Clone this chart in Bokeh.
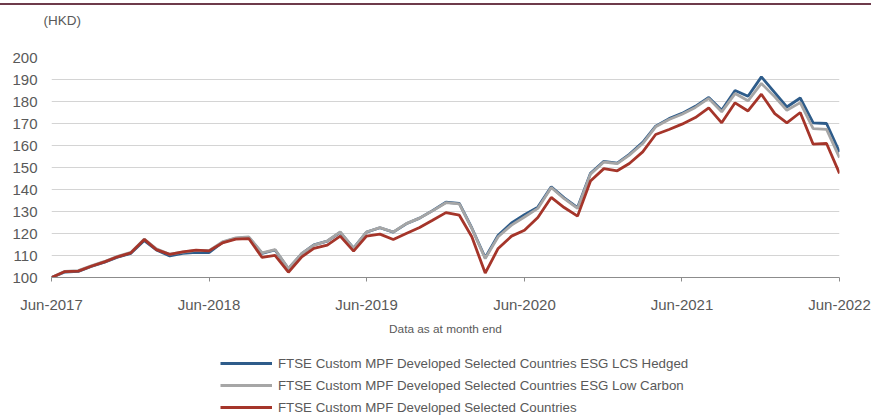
from datetime import date
from bokeh.plotting import figure
from bokeh.models import (Range1d, FixedTicker, Legend, LegendItem, Div, ColumnDataSource)
from bokeh.layouts import column
from bokeh.embed import file_html
from bokeh.resources import INLINE
import pandas as pd

# ---- data ----
months = pd.date_range("2017-06-30", "2022-06-30", freq="ME")

hedged = [100, 102.5, 102.8, 105.0, 107.0, 109.2, 111.0, 116.8, 112.5, 109.8, 111.0, 111.4,
          111.3, 116.0, 117.8, 118.2, 111.0, 112.5, 104.0, 110.8, 114.8, 116.5, 120.5, 113.3,
          120.6, 122.6, 120.6, 124.4, 127.0, 130.4, 134.2, 133.7, 122.5, 109.0, 119.2, 124.8,
          128.5, 132.0, 141.2, 136.2, 131.8, 147.4, 152.8, 152.0, 156.0, 161.4, 168.8, 172.2,
          174.6, 177.8, 181.8, 176.0, 185.0, 182.4, 191.2, 184.0, 177.5, 181.6, 170.3, 170.0,
          157.0]
low_carbon = [100, 102.8, 103.1, 105.3, 107.3, 109.6, 111.4, 117.5, 113.0, 110.6, 111.5, 112.3,
              112.2, 116.2, 118.0, 118.5, 111.2, 112.7, 104.1, 110.9, 114.7, 116.6, 120.7, 113.2,
              120.7, 122.7, 120.7, 124.5, 127.0, 130.3, 134.0, 133.5, 122.3, 108.6, 118.5, 123.8,
              127.5, 131.4, 140.9, 135.8, 131.4, 147.0, 152.5, 151.8, 155.6, 160.9, 168.5, 171.8,
              174.2, 177.3, 181.4, 175.3, 183.6, 180.3, 188.2, 182.1, 176.0, 179.5, 167.7, 167.3,
              154.5]
selected = [100, 102.7, 102.9, 105.1, 107.1, 109.4, 111.2, 117.3, 112.7, 110.5, 111.6, 112.4,
            112.1, 115.7, 117.4, 117.7, 109.1, 110.1, 102.4, 109.4, 113.2, 114.7, 118.8, 112.0,
            118.8, 119.7, 117.3, 120.0, 122.7, 126.0, 129.5, 128.3, 118.5, 102.0, 113.2, 118.8,
            121.5, 127.3, 136.4, 131.8, 127.9, 143.9, 149.5, 148.5, 151.8, 157.1, 165.0, 167.3,
            169.7, 172.7, 177.1, 170.3, 179.4, 175.7, 183.3, 174.5, 170.3, 175.0, 160.6, 160.9,
            147.3]
series_names = ["FTSE Custom MPF Developed Selected Countries ESG LCS Hedged",
                "FTSE Custom MPF Developed Selected Countries ESG Low Carbon",
                "FTSE Custom MPF Developed Selected Countries"]
series_colors = ["#2e5c8a", "#a6a6a6", "#a5352a"]
y_ticks = [100, 110, 120, 130, 140, 150, 160, 170, 180, 190, 200]
x_tick_labels = ["Jun-2017", "Jun-2018", "Jun-2019", "Jun-2020", "Jun-2021", "Jun-2022"]
x_tick_dates = [date(2017, 6, 30), date(2018, 6, 30), date(2019, 6, 30),
                date(2020, 6, 30), date(2021, 6, 30), date(2022, 6, 30)]
unit_label = "(HKD)"
x_title = "Data as at month end"

src = ColumnDataSource(dict(x=months, hedged=hedged, low=low_carbon, sel=selected))
cols = ["hedged", "low", "sel"]

TXT = "#595959"
FONT = "Liberation Sans"
W = 871

# ---- main chart ----
p = figure(width=W, height=333, output_backend="svg", toolbar_location=None,
           x_axis_type="datetime",
           x_range=Range1d(months[0], months[-1]), y_range=Range1d(100, 200),
           min_border_left=51, min_border_right=32, min_border_top=52, min_border_bottom=0)
p.outline_line_color = None

# unit label as a left-aligned title; two blank lines below lift it clear of the plot
p.title.text = unit_label + "\n \n "
p.title.align = "left"
p.title.offset = -8
p.title.standoff = 0
p.title.vertical_align = "bottom"
p.title.text_font_size = "13.5px"
p.title.text_font_style = "normal"
p.title.text_color = TXT
p.title.text_font = FONT

for c, col in zip(cols, series_colors):
    p.line("x", c, source=src, line_color=col, line_width=2.8)

ms = [pd.Timestamp(d).value // 10**6 for d in x_tick_dates]
p.xaxis.ticker = FixedTicker(ticks=ms)
p.xaxis.major_label_overrides = {m: lab for m, lab in zip(ms, x_tick_labels)}
p.xaxis.axis_line_color = "#8c8c8c"
p.xaxis.major_tick_line_color = "#8c8c8c"
p.xaxis.major_tick_out = 4
p.xaxis.major_tick_in = 0
p.xaxis.minor_tick_line_color = None
p.xaxis.major_label_text_font_size = "15px"
p.xaxis.major_label_text_color = TXT
p.xaxis.major_label_text_font = FONT
p.xaxis.major_label_standoff = 14
p.xaxis.axis_label = x_title
p.xaxis.axis_label_text_font_size = "11.8px"
p.xaxis.axis_label_text_font_style = "normal"
p.xaxis.axis_label_text_color = TXT
p.xaxis.axis_label_text_font = FONT
p.xaxis.axis_label_standoff = 6

p.yaxis.ticker = FixedTicker(ticks=y_ticks)
p.yaxis.axis_line_color = None
p.yaxis.major_tick_line_color = None
p.yaxis.major_tick_out = 0
p.yaxis.minor_tick_line_color = None
p.yaxis.minor_tick_out = 0
p.yaxis.major_label_text_font_size = "15px"
p.yaxis.major_label_text_color = TXT
p.yaxis.major_label_text_font = FONT
p.yaxis.major_label_standoff = 14

p.xgrid.grid_line_color = None
p.ygrid.grid_line_color = "#d4d4d4"
p.ygrid.grid_line_width = 1

# ---- legend panel (separate figure; its lines lie outside its view) ----
lg = figure(width=W, height=79, output_backend="svg", toolbar_location=None,
            x_axis_type="datetime", x_range=Range1d(months[0], months[-1]),
            y_range=Range1d(0, 1), x_axis_location=None, y_axis_location=None,
            min_border=0)
lg.outline_line_color = None
lg.grid.visible = False
items = []
for c, col, name in zip(cols, series_colors, series_names):
    r = lg.line("x", c, source=src, line_color=col, line_width=2.8)
    items.append(LegendItem(label=name, renderers=[r]))
legend = Legend(items=items, location=(169, 0), orientation="vertical",
                glyph_width=52, glyph_height=20, label_height=20, label_standoff=6,
                spacing=2, padding=0, margin=0,
                label_text_font_size="13.3px", label_text_color=TXT, label_text_font=FONT,
                border_line_color=None, background_fill_alpha=0)
lg.add_layout(legend)

top_line = Div(text="", width=W, height=2, margin=(3, 0, 0, 0),
               styles={"border-top": "2px solid #6e3b4b"})

layout = column(top_line, p, lg)
open("out.html", "w").write(file_html(layout, INLINE))
